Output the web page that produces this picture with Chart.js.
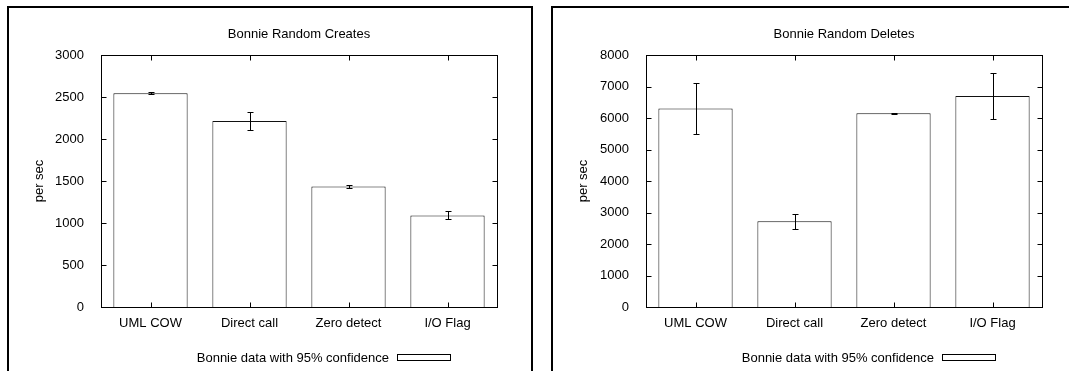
<!DOCTYPE html>
<html>
<head>
<meta charset="utf-8">
<script src="https://cdn.jsdelivr.net/npm/chart.js@4/dist/chart.umd.min.js"></script>
<style>
  html, body { margin: 0; padding: 0; background: #fff; overflow: hidden; }
  .box { position: absolute; top: 6px; width: 522px; height: 380px; border: 2px solid #000; }
  #box1 { left: 7px; }
  #box2 { left: 551px; }
  canvas { display: block; }
</style>
</head>
<body>
<div class="box" id="box1"><canvas id="creates" width="522" height="370"></canvas></div>
<div class="box" id="box2"><canvas id="deletes" width="522" height="370"></canvas></div>
<script>
const categories = ["UML COW", "Direct call", "Zero detect", "I/O Flag"];

const createsMean = [2545, 2215, 1435, 1090];
const createsLow = [2535, 2110, 1422, 1045];
const createsHigh = [2555, 2320, 1448, 1140];

const deletesMean = [6300, 2720, 6150, 6700];
const deletesLow = [5500, 2480, 6130, 5980];
const deletesHigh = [7100, 2940, 6170, 7420];

const legendText = "Bonnie data with 95% confidence";
const fontFamily = "'Liberation Sans', Arial, sans-serif";

// gnuplot style: frame, inward mirrored ticks, error bars, title and key
const gnuplotLook = {
  id: "gnuplotLook",
  afterDatasetsDraw(chart, args, opts) {
    const ctx = chart.ctx;
    const a = chart.chartArea;
    const x = chart.scales.x, y = chart.scales.y;
    ctx.save();
    ctx.strokeStyle = "#000";
    ctx.lineWidth = 1;

    // error bars
    ctx.beginPath();
    opts.low.forEach((lo, i) => {
      const px = Math.round(x.getPixelForValue(i)) + 0.5;
      const y1 = Math.round(y.getPixelForValue(lo)) + 0.5;
      const y2 = Math.round(y.getPixelForValue(opts.high[i])) + 0.5;
      ctx.moveTo(px, y1); ctx.lineTo(px, y2);
      ctx.moveTo(px - 3, y1); ctx.lineTo(px + 3, y1);
      ctx.moveTo(px - 3, y2); ctx.lineTo(px + 3, y2);
    });
    ctx.stroke();

    // frame
    const l = Math.round(a.left) + 0.5, r = Math.round(a.right) + 0.5;
    const t = Math.round(a.top) + 0.5, b = Math.round(a.bottom) + 0.5;
    ctx.strokeRect(l, t, r - l, b - t);

    // inward ticks on all four sides
    ctx.beginPath();
    y.ticks.forEach((tk, i) => {
      const py = Math.round(y.getPixelForTick(i)) + 0.5;
      ctx.moveTo(l, py); ctx.lineTo(l + 5, py);
      ctx.moveTo(r, py); ctx.lineTo(r - 5, py);
    });
    x.ticks.forEach((tk, i) => {
      const px = Math.round(x.getPixelForTick(i)) + 0.5;
      ctx.moveTo(px, b); ctx.lineTo(px, b - 5);
      ctx.moveTo(px, t); ctx.lineTo(px, t + 5);
    });
    ctx.stroke();

    // title
    ctx.fillStyle = "#000";
    ctx.font = "13px " + fontFamily;
    ctx.textAlign = "center";
    ctx.textBaseline = "middle";
    ctx.fillText(opts.title, (a.left + a.right) / 2, 26);

    // key
    const boxLeft = Math.round(a.left) + 296;
    ctx.fillStyle = "#fff";
    ctx.fillRect(boxLeft + 0.5, 346.5, 53, 6);
    ctx.strokeRect(boxLeft + 0.5, 346.5, 53, 6);
    ctx.fillStyle = "#000";
    ctx.textAlign = "right";
    ctx.fillText(legendText, boxLeft - 8, 350);
    ctx.restore();
  }
};

function makeChart(id, title, mean, low, high, yMax, yStep, plotLeft, plotRight) {
  const canvas = document.getElementById(id);
  new Chart(canvas.getContext("2d"), {
    type: "bar",
    data: {
      labels: categories,
      datasets: [{
        label: legendText,
        data: mean,
        backgroundColor: "#fff",
        borderColor: "#111",
        borderWidth: 1,
        barPercentage: 1,
        categoryPercentage: 0.75
      }]
    },
    options: {
      responsive: false,
      animation: false,
      layout: { padding: { top: 47, right: 522 - plotRight, bottom: 41, left: 0 } },
      scales: {
        x: {
          grid: { display: false },
          border: { display: false },
          ticks: { color: "#000", padding: 1, font: { family: fontFamily, size: 13 } },
          afterFit: (scale) => { scale.height = 30; }
        },
        y: {
          min: 0,
          max: yMax,
          grid: { display: false },
          border: { display: false },
          ticks: {
            stepSize: yStep,
            color: "#000",
            padding: 9,
            font: { family: fontFamily, size: 13 },
            callback: (v) => String(v)
          },
          title: {
            display: true,
            text: "per sec",
            color: "#000",
            padding: { top: 23, bottom: 0 },
            font: { family: fontFamily, size: 13 }
          },
          afterFit: (scale) => { scale.width = plotLeft; }
        }
      },
      plugins: {
        legend: { display: false },
        tooltip: { enabled: false },
        gnuplotLook: { title: title, low: low, high: high }
      }
    },
    plugins: [gnuplotLook]
  });
}

makeChart("creates", "Bonnie Random Creates", createsMean, createsLow, createsHigh, 3000, 500, 92, 488);
makeChart("deletes", "Bonnie Random Deletes", deletesMean, deletesLow, deletesHigh, 8000, 1000, 93, 489);
</script>
</body>
</html>
